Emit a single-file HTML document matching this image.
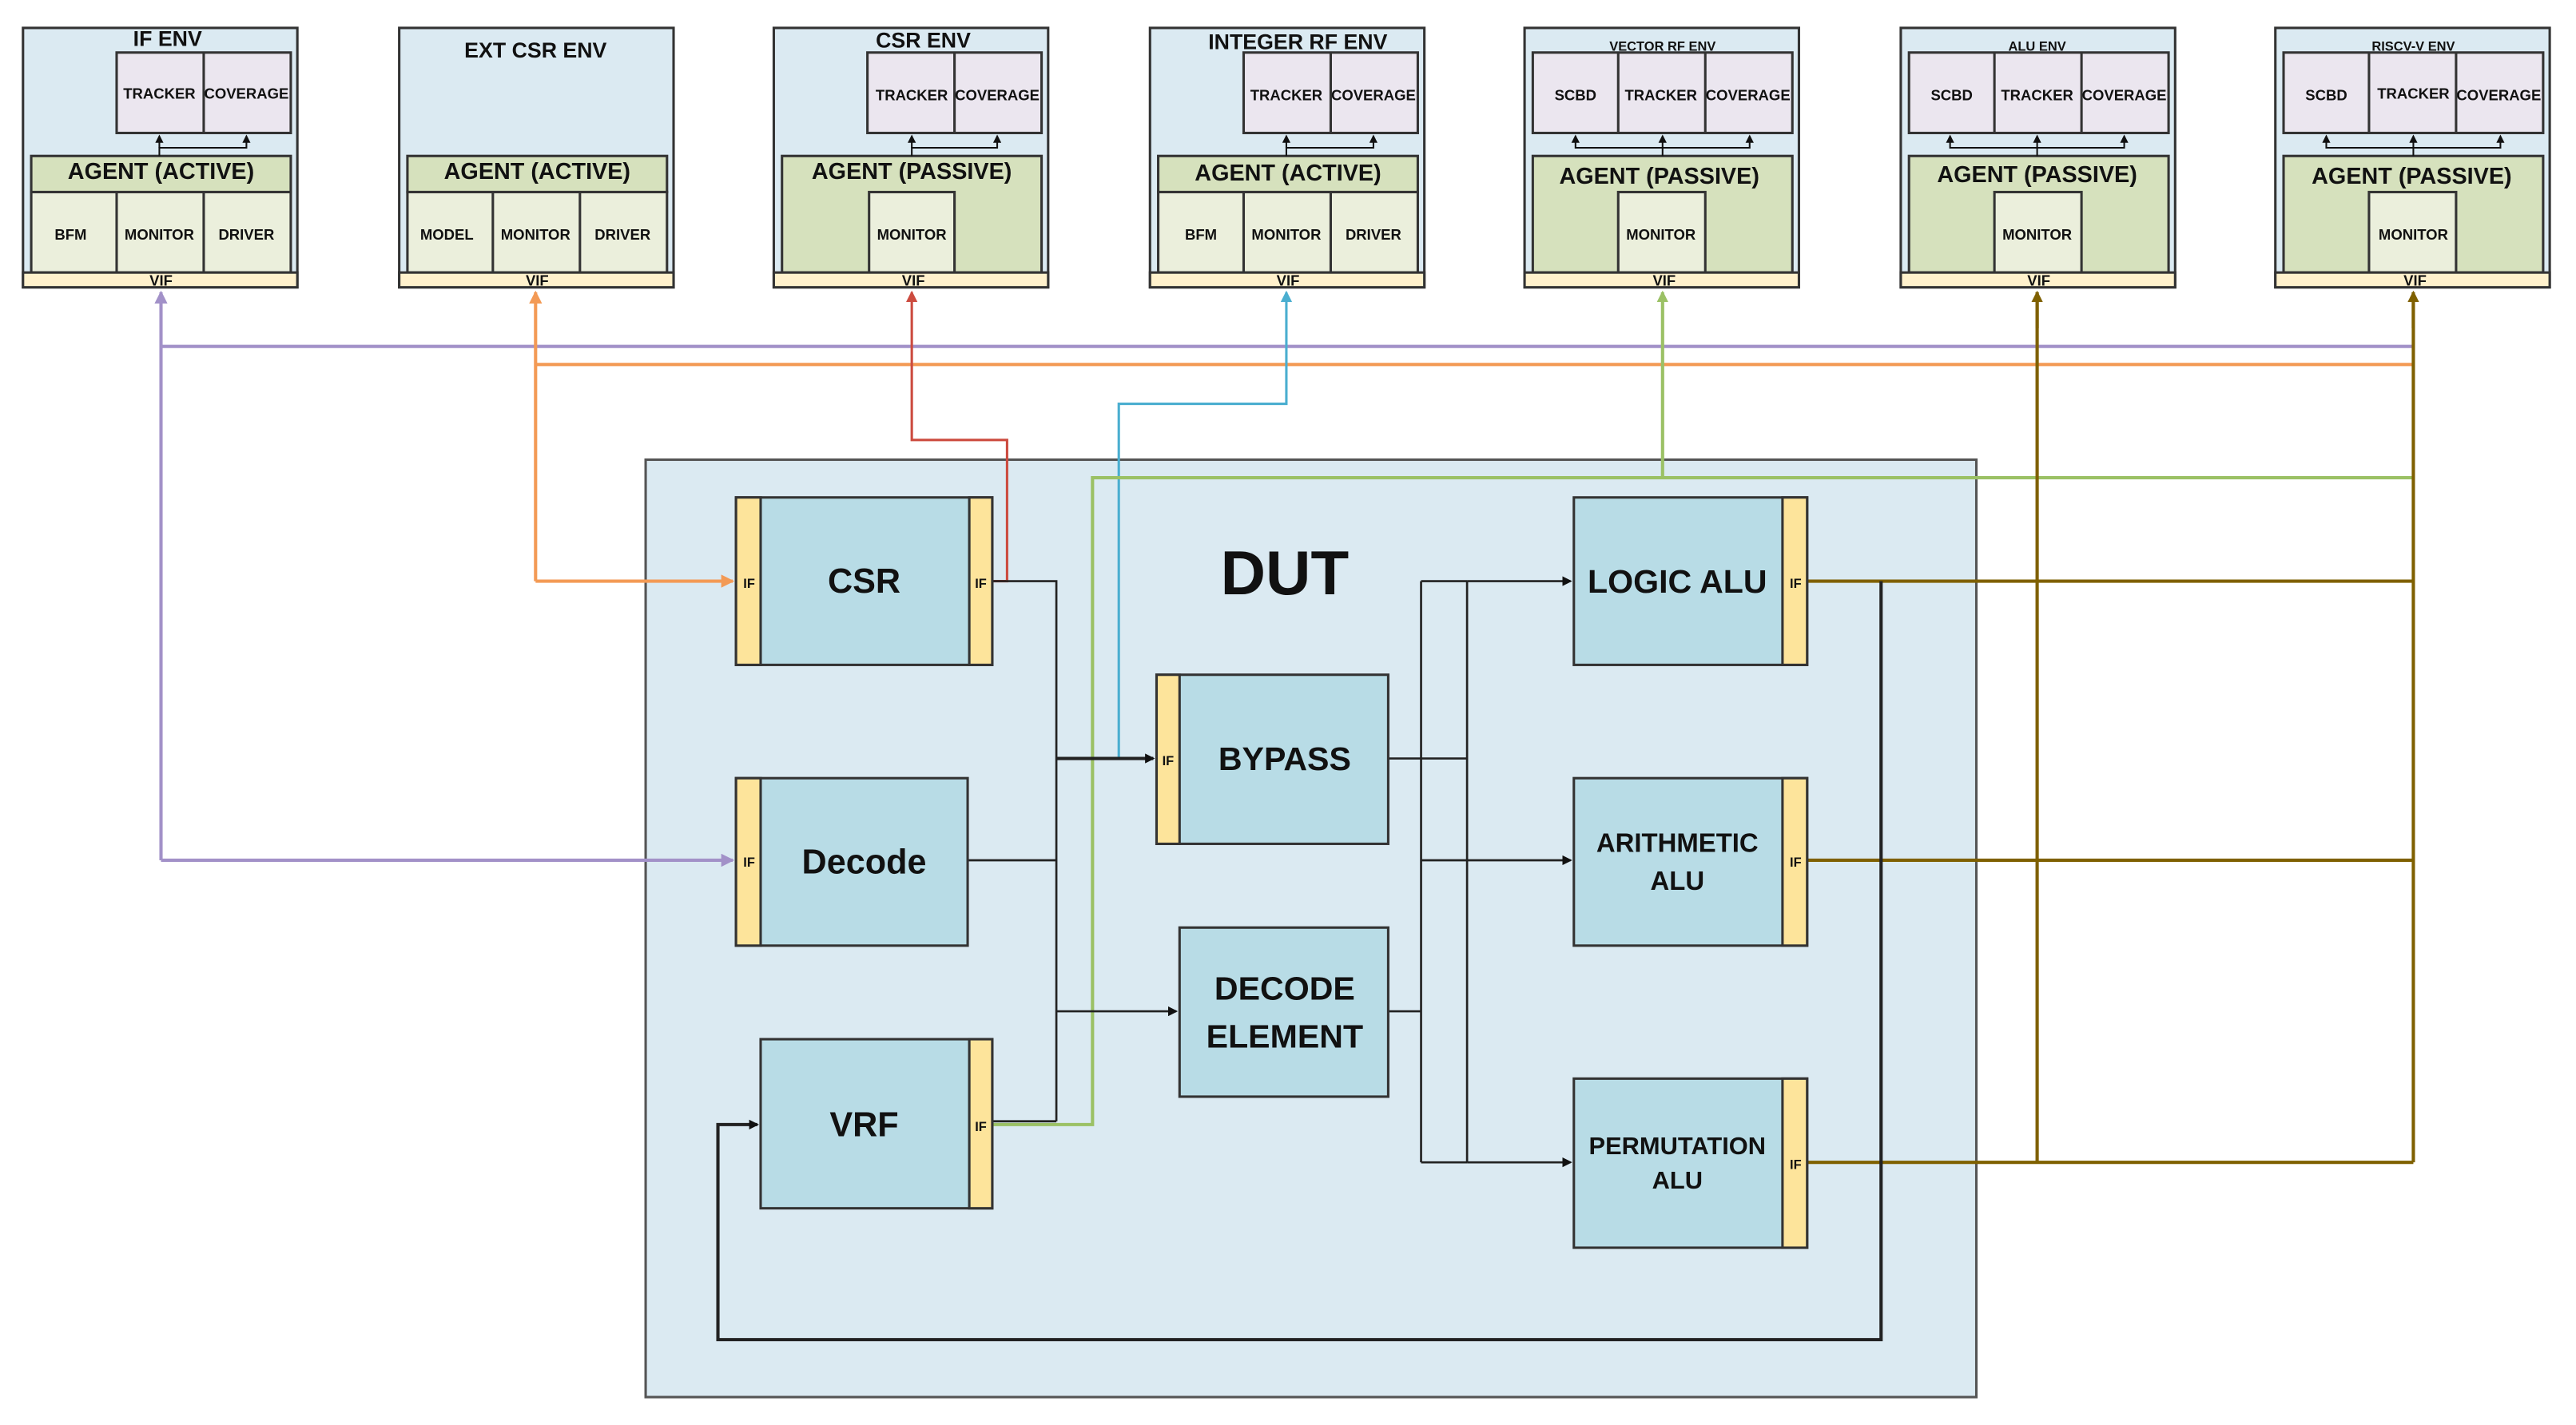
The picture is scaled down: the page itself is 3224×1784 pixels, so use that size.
<!DOCTYPE html>
<html><head><meta charset="utf-8"><style>
html,body{margin:0;padding:0;background:#fff;}
svg{display:block;}
text{font-family:"Liberation Sans Narrow","Liberation Sans",sans-serif;font-weight:bold;fill:#111;}
</style></head><body>
<svg width="3224" height="1784" viewBox="0 0 1568 868" preserveAspectRatio="none" xmlns="http://www.w3.org/2000/svg">
<defs>
<marker id="ak" markerWidth="6" markerHeight="6" refX="5" refY="3" orient="auto" markerUnits="userSpaceOnUse"><path d="M0,0 L6,3 L0,6 z" fill="#111"/></marker>
<marker id="ap" markerWidth="8" markerHeight="8" refX="7" refY="4" orient="auto" markerUnits="userSpaceOnUse"><path d="M0,0 L8,4 L0,8 z" fill="#a291c8"/></marker>
<marker id="ao" markerWidth="8" markerHeight="8" refX="7" refY="4" orient="auto" markerUnits="userSpaceOnUse"><path d="M0,0 L8,4 L0,8 z" fill="#f39a55"/></marker>
<marker id="ar" markerWidth="7" markerHeight="7" refX="6" refY="3.5" orient="auto" markerUnits="userSpaceOnUse"><path d="M0,0 L7,3.5 L0,7 z" fill="#cc4b3f"/></marker>
<marker id="ab" markerWidth="7" markerHeight="7" refX="6" refY="3.5" orient="auto" markerUnits="userSpaceOnUse"><path d="M0,0 L7,3.5 L0,7 z" fill="#4aaed0"/></marker>
<marker id="ag" markerWidth="7" markerHeight="7" refX="6" refY="3.5" orient="auto" markerUnits="userSpaceOnUse"><path d="M0,0 L7,3.5 L0,7 z" fill="#9bc165"/></marker>
<marker id="an" markerWidth="7" markerHeight="7" refX="6" refY="3.5" orient="auto" markerUnits="userSpaceOnUse"><path d="M0,0 L7,3.5 L0,7 z" fill="#7f6000"/></marker>
<marker id="as" markerWidth="5" markerHeight="5" refX="4" refY="2.5" orient="auto" markerUnits="userSpaceOnUse"><path d="M0,0 L5,2.5 L0,5 z" fill="#111"/></marker>
</defs>

<!-- ENV boxes -->
<g stroke="#333" stroke-width="1.5">
<!-- IF ENV -->
<rect x="14" y="17" width="167" height="158" fill="#dbeaf2"/>
<rect x="71" y="32" width="106" height="49" fill="#ebe6ef"/><line x1="124" y1="32" x2="124" y2="81"/>
<rect x="19" y="95" width="158" height="22" fill="#d6e1bd"/>
<rect x="19" y="117" width="158" height="49" fill="#ebefdc"/><line x1="71" y1="117" x2="71" y2="166"/><line x1="124" y1="117" x2="124" y2="166"/>
<rect x="14" y="166" width="167" height="9" fill="#fff1cc"/>
<!-- EXT CSR -->
<rect x="243" y="17" width="167" height="158" fill="#dbeaf2"/>
<rect x="248" y="95" width="158" height="22" fill="#d6e1bd"/>
<rect x="248" y="117" width="158" height="49" fill="#ebefdc"/><line x1="300" y1="117" x2="300" y2="166"/><line x1="353" y1="117" x2="353" y2="166"/>
<rect x="243" y="166" width="167" height="9" fill="#fff1cc"/>
<!-- CSR ENV -->
<rect x="471" y="17" width="167" height="158" fill="#dbeaf2"/>
<rect x="528" y="32" width="106" height="49" fill="#ebe6ef"/><line x1="581" y1="32" x2="581" y2="81"/>
<rect x="476" y="95" width="158" height="71" fill="#d6e1bd"/>
<rect x="529" y="117" width="52" height="49" fill="#ebefdc"/>
<rect x="471" y="166" width="167" height="9" fill="#fff1cc"/>
<!-- INTEGER RF -->
<rect x="700" y="17" width="167" height="158" fill="#dbeaf2"/>
<rect x="757" y="32" width="106" height="49" fill="#ebe6ef"/><line x1="810" y1="32" x2="810" y2="81"/>
<rect x="705" y="95" width="158" height="22" fill="#d6e1bd"/>
<rect x="705" y="117" width="158" height="49" fill="#ebefdc"/><line x1="757" y1="117" x2="757" y2="166"/><line x1="810" y1="117" x2="810" y2="166"/>
<rect x="700" y="166" width="167" height="9" fill="#fff1cc"/>
<!-- VECTOR / ALU / RISCV -->
<rect x="928" y="17" width="167" height="158" fill="#dbeaf2"/>
<rect x="933" y="32" width="158" height="49" fill="#ebe6ef"/><line x1="985" y1="32" x2="985" y2="81"/><line x1="1038" y1="32" x2="1038" y2="81"/>
<rect x="933" y="95" width="158" height="71" fill="#d6e1bd"/><rect x="985" y="117" width="53" height="49" fill="#ebefdc"/>
<rect x="928" y="166" width="167" height="9" fill="#fff1cc"/>
<rect x="1157" y="17" width="167" height="158" fill="#dbeaf2"/>
<rect x="1162" y="32" width="158" height="49" fill="#ebe6ef"/><line x1="1214" y1="32" x2="1214" y2="81"/><line x1="1267" y1="32" x2="1267" y2="81"/>
<rect x="1162" y="95" width="158" height="71" fill="#d6e1bd"/><rect x="1214" y="117" width="53" height="49" fill="#ebefdc"/>
<rect x="1157" y="166" width="167" height="9" fill="#fff1cc"/>
<rect x="1385" y="17" width="167" height="158" fill="#dbeaf2"/>
<rect x="1390" y="32" width="158" height="49" fill="#ebe6ef"/><line x1="1442" y1="32" x2="1442" y2="81"/><line x1="1495" y1="32" x2="1495" y2="81"/>
<rect x="1390" y="95" width="158" height="71" fill="#d6e1bd"/><rect x="1442" y="117" width="53" height="49" fill="#ebefdc"/>
<rect x="1385" y="166" width="167" height="9" fill="#fff1cc"/>
</g>
<!-- internal small arrows -->
<g stroke="#111" stroke-width="1" fill="none">
<path d="M97,95 V90 H150 V83" marker-end="url(#as)"/><path d="M97,90 V83" marker-end="url(#as)"/>
<path d="M555,95 V90 H607 V83" marker-end="url(#as)"/><path d="M555,90 V83" marker-end="url(#as)"/>
<path d="M783,95 V90 H836 V83" marker-end="url(#as)"/><path d="M783,90 V83" marker-end="url(#as)"/>
<path d="M1012,95 V83" marker-end="url(#as)"/><path d="M1012,90 H959 V83" marker-end="url(#as)"/><path d="M1012,90 H1065 V83" marker-end="url(#as)"/>
<path d="M1240,95 V83" marker-end="url(#as)"/><path d="M1240,90 H1187 V83" marker-end="url(#as)"/><path d="M1240,90 H1293 V83" marker-end="url(#as)"/>
<path d="M1469,95 V83" marker-end="url(#as)"/><path d="M1469,90 H1416 V83" marker-end="url(#as)"/><path d="M1469,90 H1522 V83" marker-end="url(#as)"/>
</g>
<!-- ENV texts -->
<g text-anchor="middle">
<text x="102" y="28" font-size="13">IF ENV</text>
<text x="326" y="35" font-size="13">EXT CSR ENV</text>
<text x="562" y="29" font-size="13">CSR ENV</text>
<text x="790" y="30" font-size="13">INTEGER RF ENV</text>
<text x="1012" y="31" font-size="8">VECTOR RF ENV</text>
<text x="1240" y="31" font-size="8">ALU ENV</text>
<text x="1469" y="31" font-size="8">RISCV-V ENV</text>
<g font-size="9">
<text x="97" y="60">TRACKER</text><text x="150" y="60">COVERAGE</text>
<text x="555" y="61">TRACKER</text><text x="607" y="61">COVERAGE</text>
<text x="783" y="61">TRACKER</text><text x="836" y="61">COVERAGE</text>
<text x="959" y="61">SCBD</text><text x="1011" y="61">TRACKER</text><text x="1064" y="61">COVERAGE</text>
<text x="1188" y="61">SCBD</text><text x="1240" y="61">TRACKER</text><text x="1293" y="61">COVERAGE</text>
<text x="1416" y="61">SCBD</text><text x="1469" y="60">TRACKER</text><text x="1521" y="61">COVERAGE</text>
<text x="43" y="146">BFM</text><text x="97" y="146">MONITOR</text><text x="150" y="146">DRIVER</text>
<text x="272" y="146">MODEL</text><text x="326" y="146">MONITOR</text><text x="379" y="146">DRIVER</text>
<text x="555" y="146">MONITOR</text>
<text x="731" y="146">BFM</text><text x="783" y="146">MONITOR</text><text x="836" y="146">DRIVER</text>
<text x="1011" y="146">MONITOR</text><text x="1240" y="146">MONITOR</text><text x="1469" y="146">MONITOR</text>
<text x="98" y="174">VIF</text><text x="327" y="174">VIF</text><text x="556" y="174">VIF</text><text x="784" y="174">VIF</text><text x="1013" y="174">VIF</text><text x="1241" y="174">VIF</text><text x="1470" y="174">VIF</text>
</g>
<g font-size="14">
<text x="98" y="109">AGENT (ACTIVE)</text><text x="327" y="109">AGENT (ACTIVE)</text>
<text x="555" y="109">AGENT (PASSIVE)</text><text x="784" y="110">AGENT (ACTIVE)</text>
<text x="1010" y="112">AGENT (PASSIVE)</text><text x="1240" y="111">AGENT (PASSIVE)</text><text x="1468" y="112">AGENT (PASSIVE)</text>
</g>
</g>

<!-- DUT -->
<rect x="393" y="280" width="810" height="571" fill="#dbeaf2" stroke="#555" stroke-width="1.5"/>
<text x="782" y="362" font-size="38" text-anchor="middle">DUT</text>

<!-- colored long lines -->
<g fill="none" stroke-width="2">
<path d="M98,211 H1469" stroke="#a291c8"/>
<path d="M326,222 H1469" stroke="#f39a55"/>
<path d="M98,524 V178" stroke="#a291c8" marker-end="url(#ap)"/>
<path d="M98,524 H446" stroke="#a291c8" marker-end="url(#ap)"/>
<path d="M326,354 V178" stroke="#f39a55" marker-end="url(#ao)"/>
<path d="M326,354 H446" stroke="#f39a55" marker-end="url(#ao)"/>
<path d="M604,354 H613 V268 H555 V178" stroke="#cc4b3f" stroke-width="1.5" marker-end="url(#ar)"/>
<path d="M681,462 V246 H783 V178" stroke="#4aaed0" stroke-width="1.5" marker-end="url(#ab)"/>
<path d="M604,685 H665 V291 H1469" stroke="#9bc165"/>
<path d="M1012,291 V178" stroke="#9bc165" marker-end="url(#ag)"/>
<path d="M1100,354 H1469 M1100,524 H1469 M1100,708 H1469 M1240,708 V178 M1469,708 V178" stroke="#7f6000"/>
<path d="M1240,200 V178" stroke="#7f6000" marker-end="url(#an)"/>
<path d="M1469,200 V178" stroke="#7f6000" marker-end="url(#an)"/>
</g>

<!-- black connectors -->
<g fill="none" stroke="#222" stroke-width="1.3">
<path d="M604,354 H643 V683 M589,524 H643 M604,683 H643"/>
<path d="M643,462 H702" stroke-width="2" marker-end="url(#ak)"/>
<path d="M643,616 H716" marker-end="url(#ak)"/>
<path d="M845,462 H893 M845,616 H865 M865,354 V708 M893,354 V708 M865,354 H893 M865,524 H893 M865,708 H893"/>
<path d="M893,354 H956" marker-end="url(#ak)"/>
<path d="M893,524 H956" marker-end="url(#ak)"/>
<path d="M893,708 H956" marker-end="url(#ak)"/>
<path d="M1145,354 V816 H437 V685 H461" stroke-width="2" marker-end="url(#ak)"/>
</g>

<!-- DUT blocks -->
<g stroke="#333" stroke-width="1.5">
<rect x="448" y="303" width="156" height="102" fill="#b8dce6"/><rect x="448" y="303" width="15" height="102" fill="#fde49b"/><rect x="590" y="303" width="14" height="102" fill="#fde49b"/>
<rect x="448" y="474" width="141" height="102" fill="#b8dce6"/><rect x="448" y="474" width="15" height="102" fill="#fde49b"/>
<rect x="463" y="633" width="141" height="103" fill="#b8dce6"/><rect x="590" y="633" width="14" height="103" fill="#fde49b"/>
<rect x="704" y="411" width="141" height="103" fill="#b8dce6"/><rect x="704" y="411" width="14" height="103" fill="#fde49b"/>
<rect x="718" y="565" width="127" height="103" fill="#b8dce6"/>
<rect x="958" y="303" width="142" height="102" fill="#b8dce6"/><rect x="1085" y="303" width="15" height="102" fill="#fde49b"/>
<rect x="958" y="474" width="142" height="102" fill="#b8dce6"/><rect x="1085" y="474" width="15" height="102" fill="#fde49b"/>
<rect x="958" y="657" width="142" height="103" fill="#b8dce6"/><rect x="1085" y="657" width="15" height="103" fill="#fde49b"/>
</g>
<g text-anchor="middle">
<text x="526" y="361" font-size="21">CSR</text>
<text x="526" y="532" font-size="21">Decode</text>
<text x="526" y="692" font-size="21">VRF</text>
<text x="782" y="469" font-size="20">BYPASS</text>
<text x="782" y="609" font-size="20">DECODE</text><text x="782" y="638" font-size="20">ELEMENT</text>
<text x="1021" y="361" font-size="20">LOGIC ALU</text>
<text x="1021" y="519" font-size="16">ARITHMETIC</text><text x="1021" y="542" font-size="16">ALU</text>
<text x="1021" y="703" font-size="15">PERMUTATION</text><text x="1021" y="724" font-size="15">ALU</text>
<g font-size="8">
<text x="456" y="358">IF</text><text x="597" y="358">IF</text><text x="456" y="528">IF</text><text x="597" y="689">IF</text>
<text x="711" y="466">IF</text><text x="1093" y="358">IF</text><text x="1093" y="528">IF</text><text x="1093" y="712">IF</text>
</g>
</g>
</svg>
</body></html>
